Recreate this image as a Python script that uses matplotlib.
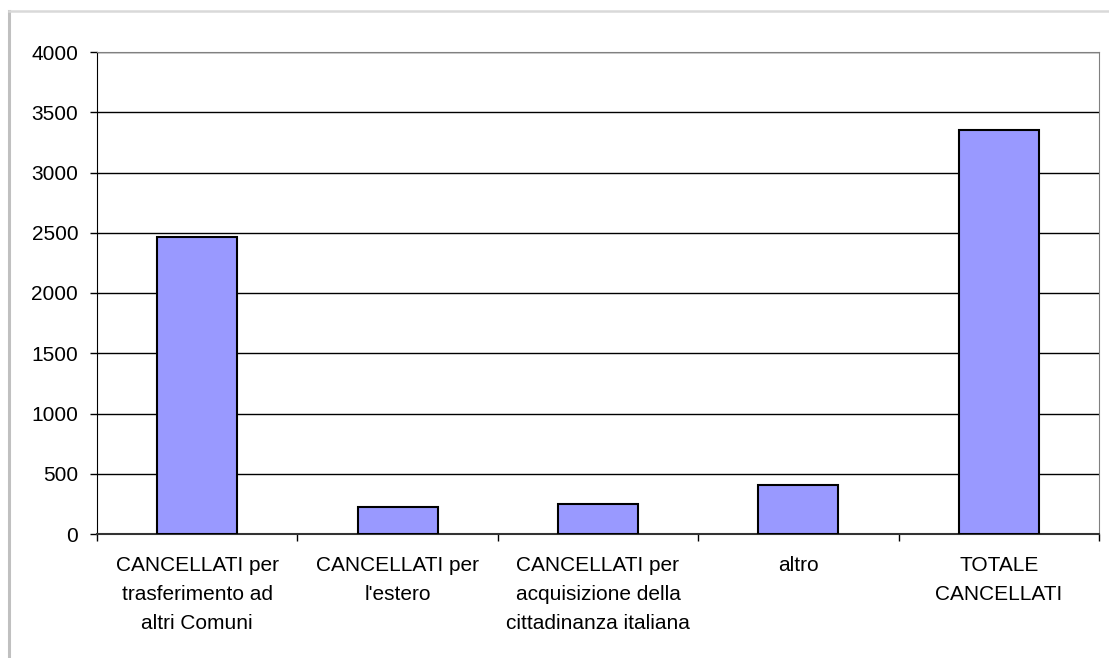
import numpy as np
import matplotlib
matplotlib.use("Agg")
import matplotlib.pyplot as plt
from matplotlib.lines import Line2D

# data
categories = [
    "CANCELLATI per\ntrasferimento ad\naltri Comuni",
    "CANCELLATI per\nl'estero",
    "CANCELLATI per\nacquisizione della\ncittadinanza italiana",
    "altro",
    "TOTALE\nCANCELLATI",
]
values = [2465, 228, 252, 405, 3350]
yticks = [0, 500, 1000, 1500, 2000, 2500, 3000, 3500, 4000]

plt.rcParams['font.family'] = ['Liberation Sans', 'DejaVu Sans']

W, H = 1109, 658
fig = plt.figure(figsize=(W / 100, H / 100), dpi=100)
ax = fig.add_axes([97 / W, 1 - 534 / H, (1099 - 97) / W, (534 - 52) / H])

x = np.arange(len(categories))
ax.bar(x, values, width=0.4, color='#9999FF', edgecolor='black', linewidth=1.5, zorder=3)

ax.set_xlim(-0.5, len(categories) - 0.5)
ax.set_ylim(0, 4000)
ax.set_yticks(yticks)
ax.set_yticklabels([str(v) for v in yticks], fontsize=15)
ax.yaxis.grid(True, color='black', linewidth=1, zorder=0)

# category ticks at boundaries, labels at centers
ax.set_xticks(np.arange(len(categories) + 1) - 0.5)
ax.set_xticklabels([])
ax.set_xticks(x, minor=True)
ax.set_xticklabels(categories, minor=True, fontsize=15, linespacing=1.66, va='top')
ax.tick_params(axis='x', which='minor', length=0, pad=16)
ax.tick_params(axis='x', which='major', length=5, width=1, direction='out')
ax.tick_params(axis='y', length=5, width=1, pad=8.5, direction='out')

for s in ['top', 'right']:
    ax.spines[s].set_color('#808080')
ax.spines['left'].set_color('black')
ax.spines['bottom'].set_color('#333333')
ax.spines['bottom'].set_linewidth(1.5)

# outer chart frame (left and top edges visible)
fig.add_artist(Line2D([9 / W, 9 / W], [0, 1 - 11 / H], color='#c0c0c0', linewidth=2.2))
fig.add_artist(Line2D([9 / W, 1], [1 - 11 / H, 1 - 11 / H], color='#d9d9d9', linewidth=1.8))

fig.savefig("out.png", dpi=100)
